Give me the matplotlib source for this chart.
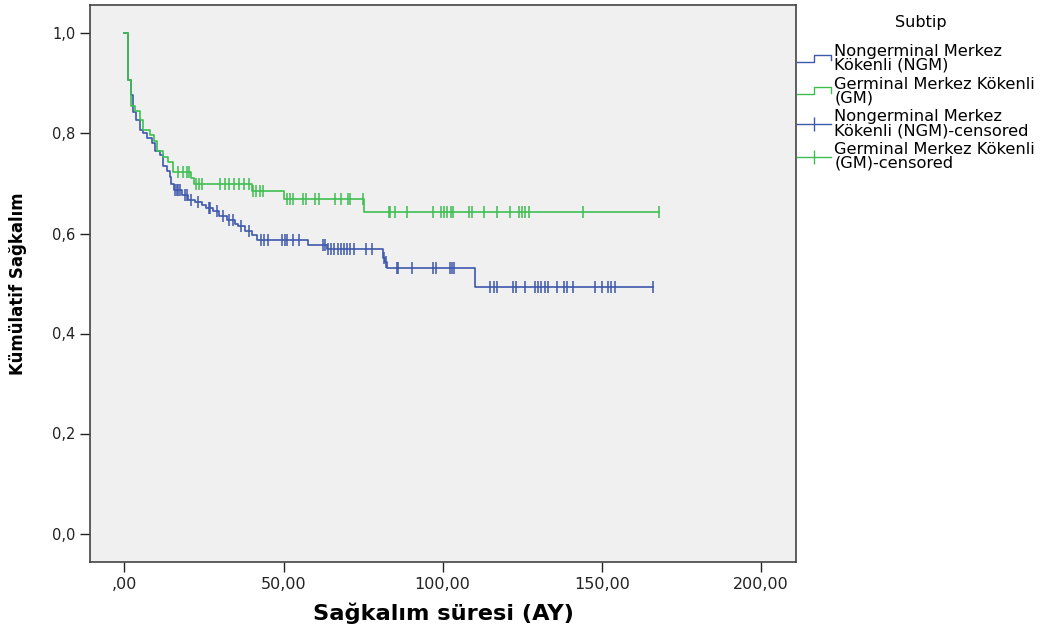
import numpy as np
import matplotlib
matplotlib.use("Agg")
import matplotlib.pyplot as plt
from matplotlib.lines import Line2D
from matplotlib.legend_handler import HandlerBase

# Kaplan-Meier steps (time in months, survival after the step)
ngm_times = [0, 1.0, 2.0, 2.8, 3.8, 4.9, 5.9, 7.2, 8.6, 9.6, 11.2, 12.0, 13.3, 14.3,
             14.8, 15.6, 18.0, 20.0, 22.2, 24.3, 25.8, 27.9, 29.8, 32.1, 34.7, 35.8,
             37.9, 40.0, 41.8, 57.8, 63.5, 81.2, 82.0, 82.6, 110.0, 166.0]
ngm_surv = [1.0, 0.907, 0.877, 0.843, 0.827, 0.807, 0.800, 0.790, 0.780, 0.764, 0.757,
            0.734, 0.724, 0.714, 0.700, 0.687, 0.677, 0.667, 0.662, 0.656, 0.650, 0.644,
            0.634, 0.627, 0.619, 0.614, 0.606, 0.597, 0.587, 0.578, 0.570, 0.550, 0.542,
            0.530, 0.493, 0.493]
ngm_censored = [16, 16.5, 17, 17.5, 19, 19.6, 21, 23, 26.5, 27, 29, 31, 33, 34, 36.5, 39,
                43, 44, 45, 49.4, 50.5, 51, 53, 55, 62.5, 63, 64, 65, 66, 67, 68, 69, 70,
                71, 72, 76, 77.7, 81.5, 82.3, 85.6, 86.1, 90.3, 97, 98, 102.4, 103, 103.4,
                115, 116, 117, 122, 123, 126, 129, 130, 131, 132, 133, 136, 138, 139, 141,
                148, 150, 152, 153, 154, 166]

gm_times = [0, 1.0, 2.0, 3.3, 4.9, 5.9, 8.0, 9.4, 10.4, 12.2, 13.8, 15.3, 21.0, 21.8,
            40.0, 50.0, 75.3, 168.0]
gm_surv = [1.0, 0.907, 0.855, 0.845, 0.827, 0.807, 0.797, 0.784, 0.765, 0.753, 0.743,
           0.722, 0.711, 0.700, 0.685, 0.669, 0.642, 0.642]
gm_censored = [16.8, 18.4, 19.7, 20.3, 22.5, 23.5, 24.5, 30, 31.5, 33, 34.5, 36, 37.5, 39,
               40.5, 41.5, 42.5, 43.5, 51, 52, 53, 56, 57, 60, 61, 66.2, 68, 70.3, 71, 75,
               83, 83.5, 85, 88.8, 97, 99.5, 100.5, 101.5, 102.5, 103.3, 108.3, 109.2, 113,
               117, 121, 124, 125, 126, 127, 144, 168]

x_ticks = [0, 50, 100, 150, 200]
x_labels = [",00", "50,00", "100,00", "150,00", "200,00"]
y_ticks = [0.0, 0.2, 0.4, 0.6, 0.8, 1.0]
y_labels = ["0,0", "0,2", "0,4", "0,6", "0,8", "1,0"]

legend_title = "Subtip"
legend_labels = ["Nongerminal Merkez\nKökenli (NGM)",
                 "Germinal Merkez Kökenli\n(GM)",
                 "Nongerminal Merkez\nKökenli (NGM)-censored",
                 "Germinal Merkez Kökenli\n(GM)-censored"]

BLUE = "#3E58AC"
GREEN = "#3EBE50"


def surv_at(times, surv, t):
    '''Value of the step function just at the censoring times.'''
    idx = np.searchsorted(times, t, side="right") - 1
    return np.asarray(surv)[idx]


class StepHandler(HandlerBase):
    '''Draws the little step shape SPSS uses in its legend.'''
    def create_artists(self, legend, orig_handle, xdescent, ydescent,
                       width, height, fontsize, trans):
        x0 = -xdescent
        lo = -ydescent + height * 0.25
        hi = -ydescent + height * 0.85
        xs = [x0, x0 + width * 0.5, x0 + width * 0.5, x0 + width, x0 + width]
        ys = [lo, lo, hi, hi, lo + 0.1 * height]
        line = Line2D(xs, ys, color=orig_handle.get_color(), lw=1.0)
        line.set_transform(trans)
        return [line]


fig = plt.figure(figsize=(10.49, 6.32), dpi=100)
ax = fig.add_axes([90 / 1049, 1 - 562 / 632, 706 / 1049, 557 / 632])
ax.set_facecolor("#F0F0F0")

for times, surv, cens, color in [(ngm_times, ngm_surv, ngm_censored, BLUE),
                                 (gm_times, gm_surv, gm_censored, GREEN)]:
    ax.step(times, surv, where="post", color=color, lw=1.2)
    ax.plot(cens, surv_at(times, surv, cens), linestyle="none", marker="|",
            markersize=8, markeredgewidth=1.1, color=color)

ax.set_xlim(-10.8, 211)
ax.set_ylim(-0.057, 1.057)
ax.set_xticks(x_ticks)
ax.set_xticklabels(x_labels)
ax.set_yticks(y_ticks)
ax.set_yticklabels(y_labels)
ax.tick_params(direction="out", length=7, width=1.0, colors="#222222")
ax.tick_params(axis="x", labelsize=11.5)
ax.tick_params(axis="y", labelsize=10.5)
for spine in ax.spines.values():
    spine.set_color("#444444")
    spine.set_linewidth(1.2)

ax.set_xlabel("Sağkalım süresi (AY)", fontsize=16.2, fontweight="bold", labelpad=8)
ax.set_ylabel("Kümülatif Sağkalım", fontsize=12, fontweight="bold", labelpad=18)

h_ngm = Line2D([], [], color=BLUE, lw=1.0)
h_gm = Line2D([], [], color=GREEN, lw=1.0)
h_ngm_c = Line2D([], [], color=BLUE, lw=1.0, marker="|", markersize=10)
h_gm_c = Line2D([], [], color=GREEN, lw=1.0, marker="|", markersize=10)
leg = fig.legend([h_ngm, h_gm, h_ngm_c, h_gm_c], legend_labels,
                 handler_map={h_ngm: StepHandler(), h_gm: StepHandler()},
                 loc="upper left", bbox_to_anchor=(797 / 1049, 1 - 44 / 632),
                 frameon=False, fontsize=11.7,
                 handlelength=2.1, handletextpad=0.2,
                 labelspacing=0.24, borderpad=0, borderaxespad=0)
for txt in leg.get_texts():
    txt.set_linespacing(0.9)
fig.text(921 / 1049, 1 - 22 / 632, legend_title, fontsize=11.5,
         ha="center", va="center")

fig.savefig("out.png", dpi=100)
